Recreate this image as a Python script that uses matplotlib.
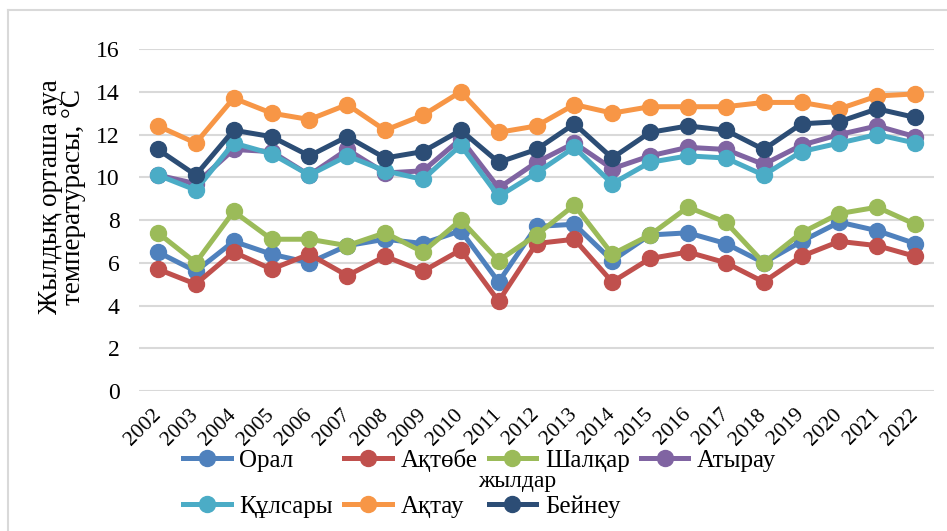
import matplotlib.pyplot as plt
from matplotlib.lines import Line2D
import numpy as np

years = [str(y) for y in range(2002, 2023)]

oral = [6.5, 5.6, 7.0, 6.4, 6.0, 6.8, 7.1, 6.9, 7.5, 5.1, 7.7, 7.8, 6.1, 7.3, 7.4, 6.9, 6.0, 7.0, 7.9, 7.5, 6.9]
aktobe = [5.7, 5.0, 6.5, 5.7, 6.4, 5.4, 6.3, 5.6, 6.6, 4.2, 6.9, 7.1, 5.1, 6.2, 6.5, 6.0, 5.1, 6.3, 7.0, 6.8, 6.3]
shalkar = [7.4, 6.0, 8.4, 7.1, 7.1, 6.8, 7.4, 6.5, 8.0, 6.1, 7.3, 8.7, 6.4, 7.3, 8.6, 7.9, 6.0, 7.4, 8.3, 8.6, 7.8]
atyrau = [10.1, 9.7, 11.3, 11.2, 10.1, 11.3, 10.2, 10.3, 11.8, 9.5, 10.7, 11.6, 10.4, 11.0, 11.4, 11.3, 10.6, 11.5, 12.0, 12.4, 11.9]
kulsary = [10.1, 9.4, 11.6, 11.1, 10.1, 11.0, 10.3, 9.9, 11.5, 9.1, 10.2, 11.4, 9.7, 10.7, 11.0, 10.9, 10.1, 11.2, 11.6, 12.0, 11.6]
aktau = [12.4, 11.6, 13.7, 13.0, 12.7, 13.4, 12.2, 12.9, 14.0, 12.1, 12.4, 13.4, 13.0, 13.3, 13.3, 13.3, 13.5, 13.5, 13.2, 13.8, 13.9]
beineu = [11.3, 10.1, 12.2, 11.9, 11.0, 11.9, 10.9, 11.2, 12.2, 10.7, 11.3, 12.5, 10.9, 12.1, 12.4, 12.2, 11.3, 12.5, 12.6, 13.2, 12.8]

names = ['Орал', 'Ақтөбе', 'Шалқар', 'Атырау', 'Құлсары', 'Ақтау', 'Бейнеу']
series = [oral, aktobe, shalkar, atyrau, kulsary, aktau, beineu]
colors = ['#4F81BD', '#C0504D', '#9BBB59', '#8064A2', '#4BACC6', '#F79646', '#2C4D75']

plt.rcParams['font.family'] = ['Liberation Serif', 'DejaVu Serif']

fig = plt.figure(figsize=(9.47, 5.31), dpi=100)
ax = fig.add_axes([139 / 947, 1 - 391 / 531, (934 - 139) / 947, (391 - 49) / 531])

x = np.arange(len(years))
for vals, name, c in zip(series, names, colors):
    ax.plot(x, vals, color=c, linewidth=3.6, marker='o', markersize=11.5, label=name,
            solid_capstyle='round', solid_joinstyle='round')

ax.set_xlim(-0.5, len(years) - 0.5)
ax.set_ylim(0, 16)
ax.set_yticks(range(0, 17, 2))
ax.set_xticks(x)
ax.set_xticklabels(years, rotation=45, ha='right', va='center', rotation_mode='anchor')
ax.tick_params(axis='y', length=0, labelsize=17, pad=14)
ax.tick_params(axis='x', length=0, labelsize=15.5, pad=15)
ax.grid(axis='y', color='#D9D9D9', linewidth=1.5)
ax.set_axisbelow(True)
for s in ax.spines.values():
    s.set_visible(False)

fig.text(62 / 947, 1 - 197 / 531, 'Жылдық орташа ауа\nтемпературасы, °C', rotation=90,
         ha='center', va='center', fontsize=19.5, linespacing=0.9)
fig.text(517 / 947, 1 - 481 / 531, 'жылдар', ha='center', va='center', fontsize=17)

# legend reads row by row in the reference: reorder for column-major filling
order = [0, 4, 1, 5, 2, 6, 3]
handles = [Line2D([], [], color=colors[i], linewidth=3.6, marker='o', markersize=11.5) for i in order]
labels = [names[i] for i in order]
fig.legend(handles, labels, loc='upper left', bbox_to_anchor=(183 / 947, 1 - 448 / 531),
           ncol=4, frameon=False, fontsize=18, handlelength=1.9, handletextpad=0.35,
           columnspacing=0.45, labelspacing=0.95, borderaxespad=0, borderpad=0)

# light frame of the chart area (only top/left visible in the crop)
fig.add_artist(Line2D([8 / 947, 1], [1 - 10 / 531] * 2, color='#D9D9D9', linewidth=1.5))
fig.add_artist(Line2D([8 / 947] * 2, [0, 1 - 10 / 531], color='#D9D9D9', linewidth=1.5))

fig.savefig('out.png', dpi=100)
